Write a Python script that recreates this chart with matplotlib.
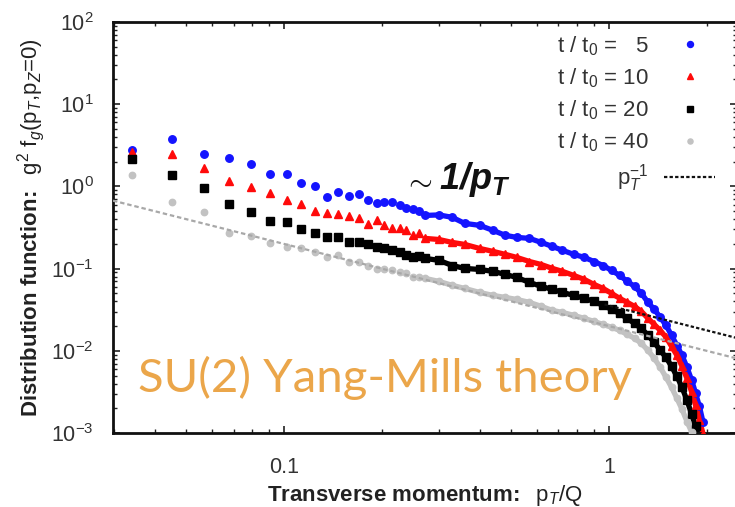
import numpy as np
import matplotlib
matplotlib.use("Agg")
import matplotlib.pyplot as plt
from matplotlib.lines import Line2D
from matplotlib.ticker import FixedLocator, NullFormatter, LogLocator

plt.rcParams['font.family'] = ['Liberation Sans', 'DejaVu Sans']
plt.rcParams['mathtext.fontset'] = 'custom'
plt.rcParams['mathtext.rm'] = 'Liberation Sans'
plt.rcParams['mathtext.it'] = 'Liberation Sans:italic'
plt.rcParams['mathtext.bf'] = 'Liberation Sans:bold'
plt.rcParams['mathtext.bfit'] = 'Liberation Sans:italic:bold'

# ---- data -------------------------------------------------------------
pT = [0.0340, 0.0453, 0.0567, 0.0680, 0.0793, 0.0906, 0.102, 0.113, 0.125, 0.136,
      0.147, 0.159, 0.170, 0.181, 0.193, 0.204, 0.215, 0.227, 0.238, 0.249,
      0.261, 0.272,
      0.30, 0.33, 0.36, 0.40, 0.44, 0.48, 0.52, 0.57, 0.62, 0.67,
      0.72, 0.78, 0.84, 0.90, 0.96, 1.02, 1.08, 1.14, 1.20, 1.26,
      1.32, 1.38, 1.44, 1.50, 1.56, 1.62, 1.68, 1.74, 1.80, 1.85,
      1.90, 1.95]

f_t5 = [2.74, 3.73, 2.45, 2.19, 1.85, 1.42, 1.40, 1.09, 1.00, 0.735,
        0.845, 0.755, 0.80, 0.675, 0.621, 0.639, 0.639, 0.587, 0.54, 0.525,
        0.496, 0.443,
        0.45, 0.42, 0.355, 0.336, 0.292, 0.254, 0.24, 0.233, 0.208, 0.186,
        0.167, 0.149, 0.137, 0.122, 0.109, 0.095, 0.0826, 0.0699, 0.0607, 0.0499,
        0.0388, 0.0319, 0.0255, 0.0204, 0.0154, 0.0116, 0.0088, 0.00628, 0.00436, 0.00303,
        0.00211, 0.00135]

f_t10 = [2.59, 2.45, 1.66, 1.15, 0.97, 0.822, 0.675, 0.604, 0.496, 0.47,
         0.456, 0.431, 0.408, 0.345, 0.386, 0.336, 0.308, 0.308, 0.292, 0.254,
         0.268, 0.233,
         0.226, 0.208, 0.197, 0.176, 0.162, 0.149, 0.137, 0.122, 0.112, 0.1005,
         0.0925, 0.0826, 0.0739, 0.0643, 0.0574, 0.0499, 0.0434, 0.0388, 0.0347, 0.0301,
         0.0248, 0.0209, 0.0177, 0.0146, 0.0113, 0.0088, 0.00646, 0.00461, 0.00312, 0.00217,
         0.00142, 0.00098]

f_t20 = [2.13, 1.36, 0.945, 0.604, 0.483, 0.375, 0.365, 0.30, 0.268, 0.24,
         0.24, 0.208, 0.208, 0.197, 0.181, 0.176, 0.167, 0.157, 0.145, 0.137,
         0.141, 0.133,
         0.126, 0.109, 0.1005, 0.0977, 0.0925, 0.085, 0.0782, 0.0679, 0.0607, 0.0558,
         0.0513, 0.0472, 0.0434, 0.0399, 0.0357, 0.0319, 0.0285, 0.0248, 0.0215, 0.0187,
         0.0154, 0.0127, 0.0101, 0.0083, 0.00646, 0.00489, 0.00359, 0.00249, 0.00168, 0.0012,
         0.00085, 0.0006]

f_t40 = [1.36, 0.638, 0.483, 0.268, 0.247, 0.203, 0.181, 0.176, 0.157, 0.137,
         0.145, 0.119, 0.119, 0.109, 0.100, 0.100, 0.095, 0.090, 0.0875, 0.078,
         0.080, 0.076,
         0.0699, 0.0625, 0.0574, 0.0513, 0.0472, 0.0446, 0.0422, 0.0388, 0.0347, 0.031,
         0.0293, 0.027, 0.0248, 0.0228, 0.0209, 0.0193, 0.0177, 0.0158, 0.0142, 0.0123,
         0.0101, 0.0081, 0.00628, 0.00475, 0.00359, 0.00264, 0.00194, 0.00138, 0.00102, 0.0007,
         0.0005, 0.0004]

fit_grey_x = [0.0298, 2.48]
fit_grey_y = [0.671, 0.00806]
fit_black_x = [0.97, 2.48]
fit_black_y = [0.0366, 0.0143]

series_labels = ['t / t$_0$ = \u20075', 't / t$_0$ = 10', 't / t$_0$ = 20', 't / t$_0$ = 40']
fit_label = 'p$_T^{-1}$'
xtick_vals = [0.1, 1]
xtick_labels = ['0.1', '1']

# ---- figure -----------------------------------------------------------
fig = plt.figure(figsize=(7.35, 5.07), dpi=100)
ax = fig.add_axes([113/735, 1-433/507, (737-113)/735, (433-22)/507])
ax.set_xscale('log')
ax.set_yscale('log')
ax.set_xlim(0.0298, 2.48)
ax.set_ylim(1e-3, 1e2)

x = np.array(pT)
dense = x >= 0.27
styles = [
    (f_t5, '#1414ff', 'o', 5.4),
    (f_t10, '#ff0a0a', '^', 5.4),
    (f_t20, '#000000', 's', 5.2),
    (f_t40, '#c2c2c2', 'o', 4.6),
]
handles = []
for (ys, col, mk, ms), lab in zip(styles, series_labels):
    y = np.array(ys)
    ax.plot(x[dense], y[dense], '-', color=col, lw=3.8, solid_capstyle='round', zorder=2)
    ax.plot(x, y, linestyle='none', marker=mk, color=col, ms=ms, mec=col, zorder=3)
    handles.append(Line2D([], [], linestyle='none', marker=mk, color=col, ms=ms * 0.8, label=lab))

ax.plot(fit_grey_x, fit_grey_y, color='#a8a8a8', lw=1.6, ls=(0, (2.0, 1.3)), zorder=4)
ax.plot(fit_black_x, fit_black_y, color='#111111', lw=1.6, ls=(0, (1.5, 1.0)), zorder=4)
handles.append(Line2D([], [], color='#111111', lw=1.6, ls=(0, (1.5, 1.0)), label=fit_label))

leg = ax.legend(handles=handles, loc='upper right', frameon=False, markerfirst=False,
                fontsize=16, handlelength=2.3, handletextpad=0.7, labelspacing=0.38,
                borderaxespad=0.15, bbox_to_anchor=(0.985, 1.0))
for t in leg.get_texts():
    t.set_color('#333333')

# ticks
ax.xaxis.set_major_locator(FixedLocator(xtick_vals))
ax.set_xticklabels(xtick_labels)
ax.xaxis.set_minor_locator(LogLocator(base=10, subs=np.arange(2, 10)))
ax.xaxis.set_minor_formatter(NullFormatter())
ax.yaxis.set_major_locator(LogLocator(base=10, numticks=10))
ax.yaxis.set_minor_locator(LogLocator(base=10, subs=np.arange(2, 10), numticks=10))
ax.yaxis.set_minor_formatter(NullFormatter())
ax.tick_params(which='both', direction='in', top=True, right=True, colors='#222222')
ax.tick_params(which='major', length=5, width=1.2, labelsize=15.5, labelcolor='#333333')
ax.tick_params(which='minor', length=3, width=1.0)
ax.tick_params(axis='x', which='major', pad=17)
ax.tick_params(axis='y', which='major', pad=14)
for s in ax.spines.values():
    s.set_linewidth(2.0)
    s.set_color('#111111')

ax.set_xlabel(r'$\mathbf{Transverse\ momentum\!:}$  p$_T$/Q', fontsize=16, color='#222222',
              labelpad=4)
ax.set_ylabel(r'$\mathbf{Distribution\ function\!:}$  g$^2$ f$_g$(p$_T$,p$_Z$=0)', fontsize=16,
              color='#222222', labelpad=3)

ax.text(0.465, 0.614, r'$\sim$', transform=ax.transAxes, fontsize=22, color='#111111',
        ha='left', va='center')
ax.text(0.522, 0.616, r'$\mathbfit{1/p_T}$', transform=ax.transAxes, fontsize=26,
        color='#111111', ha='left', va='center')
ax.text(0.04, 0.10, 'SU(2) Yang-Mills theory', transform=ax.transAxes, fontsize=34,
        color='#EBA64A', ha='left', va='baseline', family=['Lato', 'DejaVu Sans'])

fig.savefig('out.png', dpi=100)
